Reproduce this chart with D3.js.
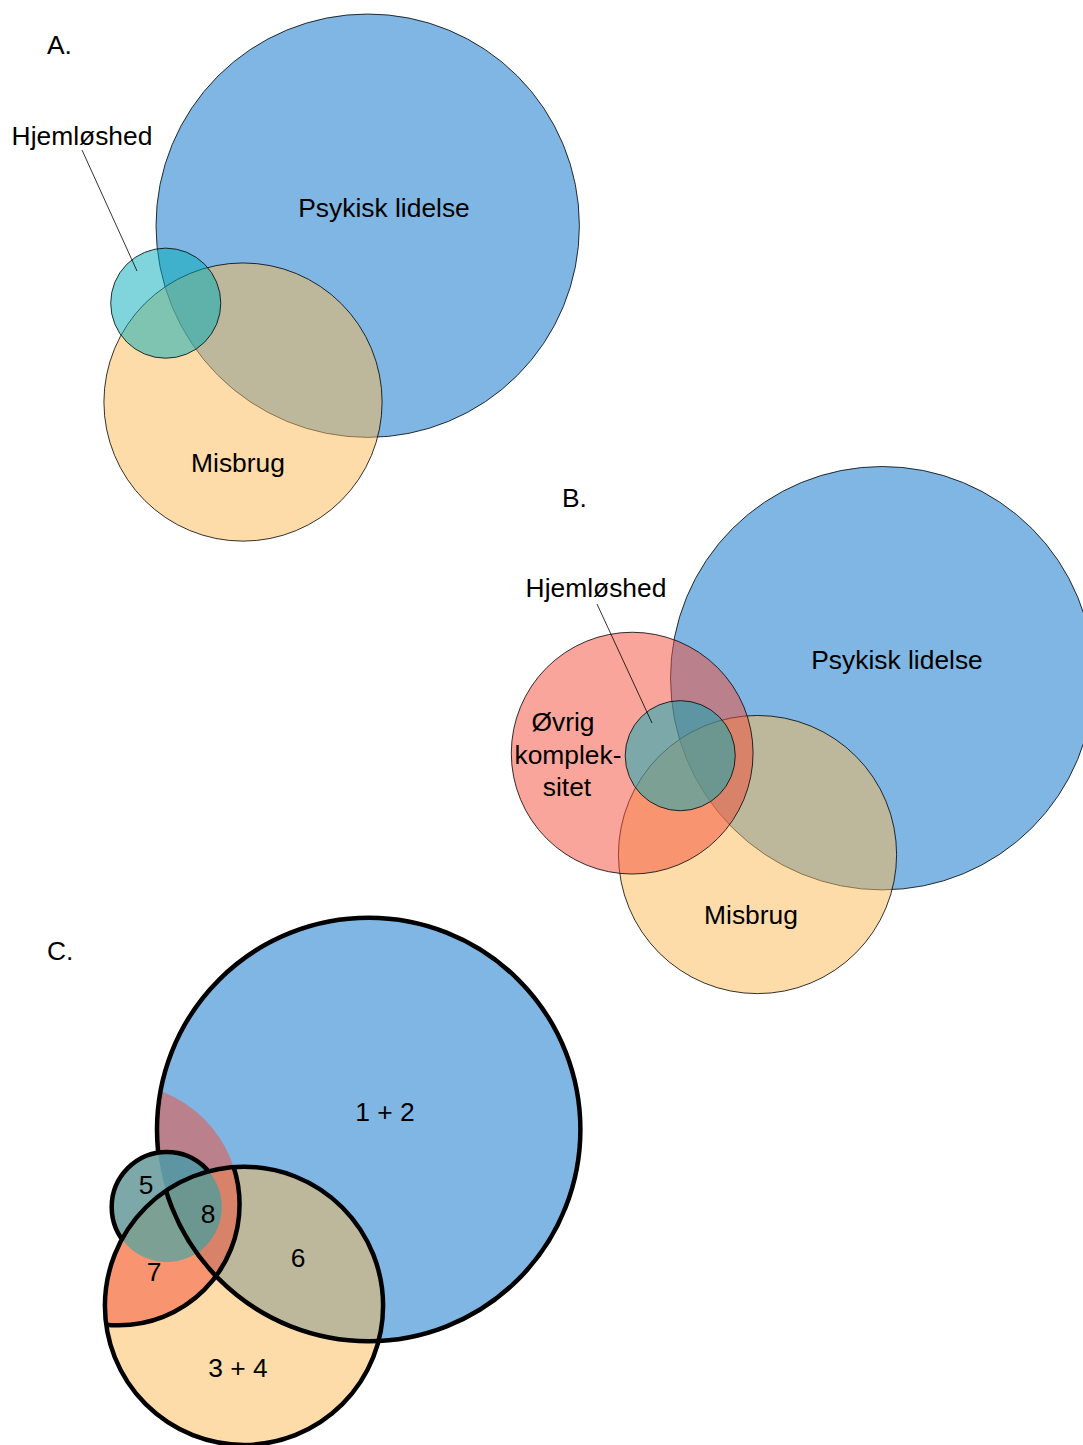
<!DOCTYPE html>
<html>
<head>
<meta charset="utf-8">
<script src="https://cdn.jsdelivr.net/npm/d3@7"></script>
<style>
  html, body { margin: 0; padding: 0; background: #ffffff; }
  svg { display: block; }
  text { font-family: "Liberation Sans", Arial, sans-serif; font-size: 26.4px; fill: #000; }
</style>
</head>
<body>
<svg id="chart" width="1083" height="1445"></svg>
<script>
// ---- Data (Venn sets, in relative units: largest set radius = 100) ----
const setKeys   = ["psyk", "misbrug", "hjem", "ovrig"];
const setNames  = ["Psykisk lidelse", "Misbrug", "Hjemløshed", "Øvrig kompleksitet"];
const setRadius = [100, 65.7, 26.0, 57.1];
const setDx     = [0, -58.9, -95.4, -118.1];
const setDy     = [0, 83.3, 36.6, 35.4];

const panelTitles = ["A.", "B.", "C."];
const panelCLabels = ["1 + 2", "3 + 4", "5", "6", "7", "8"];
const ovrigLines = ["Øvrig", "komplek-", "sitet"];

// ---- Styles ----
const fills = {
  psyk:    { color: "rgb(127,182,227)", op: 1 },
  misbrug: { color: "rgb(251,185,85)",  op: 0.5 },
  ovrig:   { color: "rgb(245,75,55)",   op: 0.5 },
  hjem:    { color: "rgb(0,171,183)",   op: 0.5 }
};

const svg = d3.select("#chart");
const defs = svg.append("defs");

function makeScales(cx, cy) {
  const k = 211.7 / 100;
  const x = d3.scaleLinear().domain([-100, 100]).range([cx - 100 * k, cx + 100 * k]);
  const y = d3.scaleLinear().domain([-100, 100]).range([cy - 100 * k, cy + 100 * k]);
  const r = d3.scaleLinear().domain([0, 100]).range([0, 100 * k]);
  return { x, y, r };
}

const sets = setKeys.map((key, i) => ({
  key, name: setNames[i], r: setRadius[i], dx: setDx[i], dy: setDy[i]
}));
const byKey = Object.fromEntries(sets.map(s => [s.key, s]));

function circleAttrs(sel, sc) {
  sel.attr("cx", d => sc.x(d.dx)).attr("cy", d => sc.y(d.dy)).attr("r", d => sc.r(d.r));
}

// ---------- Panel A ----------
(function () {
  const sc = makeScales(367.7, 225.7);
  const g = svg.append("g");
  const order = ["psyk", "misbrug", "hjem"].map(k => byKey[k]);
  g.selectAll("circle").data(order).join("circle")
    .call(circleAttrs, sc)
    .attr("fill", d => fills[d.key].color)
    .attr("fill-opacity", d => fills[d.key].op)
    .attr("stroke", "#000").attr("stroke-width", 0.8);
  g.append("text").attr("x", 47).attr("y", 54).text(panelTitles[0]);
  g.append("text").attr("x", 384).attr("y", 217).attr("text-anchor", "middle").text(setNames[0]);
  g.append("text").attr("x", 238).attr("y", 472).attr("text-anchor", "middle").text(setNames[1]);
  g.append("text").attr("x", 82).attr("y", 145).attr("text-anchor", "middle").text(setNames[2]);
  g.append("line").attr("x1", 82).attr("y1", 150).attr("x2", 137).attr("y2", 271)
    .attr("stroke", "#000").attr("stroke-width", 0.8);
})();

// ---------- Panel B ----------
(function () {
  const sc = makeScales(882.2, 678.2);
  const g = svg.append("g");
  const order = ["psyk", "misbrug", "ovrig", "hjem"].map(k => byKey[k]);
  g.selectAll("circle").data(order).join("circle")
    .call(circleAttrs, sc)
    .attr("fill", d => fills[d.key].color)
    .attr("fill-opacity", d => fills[d.key].op)
    .attr("stroke", "#000").attr("stroke-width", 0.8);
  g.append("text").attr("x", 562).attr("y", 507).text(panelTitles[1]);
  g.append("text").attr("x", 897).attr("y", 669).attr("text-anchor", "middle").text(setNames[0]);
  g.append("text").attr("x", 751).attr("y", 924).attr("text-anchor", "middle").text(setNames[1]);
  g.append("text").attr("x", 596).attr("y", 597).attr("text-anchor", "middle").text(setNames[2]);
  g.append("line").attr("x1", 597).attr("y1", 604).attr("x2", 652).attr("y2", 723)
    .attr("stroke", "#000").attr("stroke-width", 0.8);
  const ovX = [563, 568, 567];
  ovrigLines.forEach((t, i) => {
    g.append("text").attr("x", ovX[i]).attr("y", 731 + i * 32.5).attr("text-anchor", "middle").text(t);
  });
})();

// ---------- Panel C ----------
(function () {
  const sc = makeScales(368.7, 1129.5);
  const g = svg.append("g");

  // clip: union of the three main sets (Øvrig kompleksitet shown only inside them)
  const cpU = defs.append("clipPath").attr("id", "clipUnion");
  cpU.selectAll("circle").data(["psyk", "misbrug", "hjem"].map(k => byKey[k])).join("circle")
    .call(circleAttrs, sc);
  const cpM = defs.append("clipPath").attr("id", "clipMisbrug");
  cpM.selectAll("circle").data([byKey.misbrug]).join("circle").call(circleAttrs, sc);

  // mask: everything except Hjemløshed-outside-Misbrug (for Psykisk lidelse outline)
  const mPsyk = defs.append("mask").attr("id", "maskPsyk").attr("maskUnits", "userSpaceOnUse")
    .attr("x", 0).attr("y", 0).attr("width", 1083).attr("height", 1445);
  mPsyk.append("rect").attr("width", 1083).attr("height", 1445).attr("fill", "#fff");
  mPsyk.append("circle").datum(byKey.hjem).call(circleAttrs, sc).attr("fill", "#000");
  mPsyk.append("circle").datum(byKey.misbrug).call(circleAttrs, sc).attr("fill", "#fff");

  // mask: outside Misbrug (for Hjemløshed outline)
  const mHjem = defs.append("mask").attr("id", "maskHjem").attr("maskUnits", "userSpaceOnUse")
    .attr("x", 0).attr("y", 0).attr("width", 1083).attr("height", 1445);
  mHjem.append("rect").attr("width", 1083).attr("height", 1445).attr("fill", "#fff");
  mHjem.append("circle").datum(byKey.misbrug).call(circleAttrs, sc).attr("fill", "#000");

  const fillLayer = g.append("g");
  ["psyk", "misbrug", "ovrig", "hjem"].forEach(k => {
    const c = fillLayer.append("circle").datum(byKey[k]).call(circleAttrs, sc)
      .attr("fill", fills[k].color).attr("fill-opacity", fills[k].op);
    if (k === "ovrig") c.attr("clip-path", "url(#clipUnion)");
  });

  const strokeLayer = g.append("g").attr("fill", "none").attr("stroke", "#000").attr("stroke-width", 4.5);
  strokeLayer.append("circle").datum(byKey.psyk).call(circleAttrs, sc).attr("mask", "url(#maskPsyk)");
  strokeLayer.append("circle").datum(byKey.hjem).call(circleAttrs, sc).attr("mask", "url(#maskHjem)");
  strokeLayer.append("circle").datum(byKey.ovrig).call(circleAttrs, sc).attr("clip-path", "url(#clipMisbrug)");
  strokeLayer.append("circle").datum(byKey.misbrug).call(circleAttrs, sc);

  g.append("text").attr("x", 47).attr("y", 960).text(panelTitles[2]);
  const labPos = [[385, 1121], [238, 1377], [146, 1194], [298, 1267], [154, 1281], [208, 1223]];
  panelCLabels.forEach((t, i) => {
    g.append("text").attr("x", labPos[i][0]).attr("y", labPos[i][1]).attr("text-anchor", "middle").text(t);
  });
})();
</script>
</body>
</html>
